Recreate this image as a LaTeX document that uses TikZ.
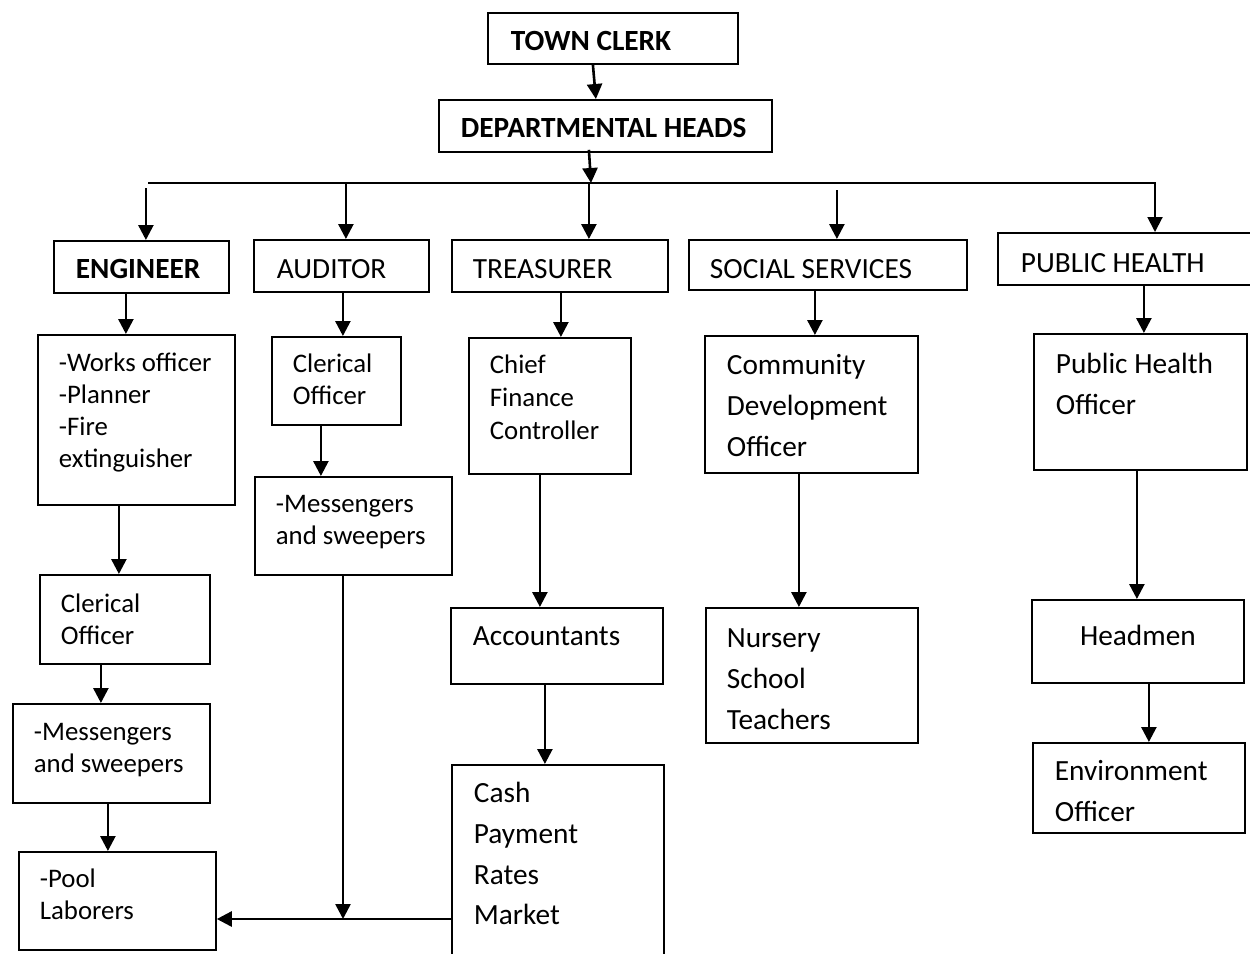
\documentclass[tikz,border=0pt]{standalone}
\usepackage{fontspec}
\setmainfont{Carlito}
\usetikzlibrary{arrows.meta}
\newcommand*{\smalltxt}{\fontsize{26.8}{31.8}\selectfont}
\newcommand*{\bigtxt}{\fontsize{29.3}{40.6}\selectfont}
\tikzset{
    % Define style for the office boxes
    post/.style={
           rectangle,
           draw=black, line width=1.8pt,
           anchor=north west,
           inner ysep=0pt,
           align=left,
           font=\bigtxt},
    % Define style for the smaller text
    lite/.style={font=\smalltxt},
    % Define style for the heads
    topp/.style={font=\bigtxt\bfseries},
    % Define arrow style
    pil/.style={
           -{Triangle[length=15pt,width=15pt]},
           line width=2.6pt}
}
% #1 style, #2 name, #3-#6 corners, #7 text left, #8 first baseline, #9 text
\newcommand*{\post}[9]{%
  \pgfmathsetmacro\pbPad{#7-#3}%
  \pgfmathsetmacro\pbWid{#5-#3-2*\pbPad}%
  \pgfmathsetmacro\pbHgt{#8-#4}%
  \pgfmathsetmacro\pbDep{#6-#8}%
  \node[post,#1,inner xsep=\pbPad pt,text width=\pbWid pt,
        text height=\pbHgt pt,text depth=\pbDep pt] (#2) at (#3,#4)
        {\spaceskip=0pt\xspaceskip=0pt\relax #9};}

\begin{document}
\begin{tikzpicture}[x=1pt,y=-1pt]
\fill[white] (0,0) rectangle (1250,953);
\useasboundingbox (0,0) rectangle (1250,953);

% Top of the chart
\post{topp}{clerk}{487}{12}{737}{63}{510}{50}{TOWN~CLERK}
\post{topp}{heads}{438}{99}{771}{151}{460}{137}{DEPARTMENTAL~HEADS}

% The five departments
\post{topp}{engineer}{53}{240}{228}{292}{75}{278}{ENGINEER}
\post{}{auditor}{253}{239}{428}{291}{276}{278}{AUDITOR}
\post{}{treasurer}{451}{239}{667}{291}{472}{278}{TREASURER}
\post{}{social}{688}{239}{966}{289}{709}{278}{SOCIAL~SERVICES}
\post{}{health}{997}{232}{1252}{284}{1020}{272}{PUBLIC~HEALTH}

% Engineer
\post{lite}{works}{37}{334}{234}{504}{58}{371}{-Works~officer\\-Planner\\-Fire\\extinguisher}
\post{lite}{eclerk}{39}{574}{209}{663}{60}{612}{Clerical\\Officer}
\post{lite}{emess}{12}{703}{209}{802}{33}{740}{-Messengers\\and~sweepers}
\post{lite}{pool}{18}{851}{215}{949}{39}{887}{-Pool\\Laborers}

% Auditor
\post{lite}{aclerk}{271}{336}{400}{424}{292}{372}{Clerical\\Officer}
\post{lite}{amess}{254}{476}{451}{574}{275}{512}{-Messengers\\and~sweepers}

% Treasurer
\post{lite,font=\fontsize{26.8}{32.8}\selectfont}{cfc}{468}{337}{630}{473}{489}{373}{Chief\\Finance\\Controller}
\post{}{acc}{450}{607}{662}{683}{472}{645}{Accountants}
\post{}{cash}{451}{764}{663}{1000}{473}{802}{Cash\\Payment\\Rates\\Market}

% Social services
\post{}{cdo}{704}{335}{917}{472}{726}{374}{Community\\Development\\Officer}
\post{}{nursery}{705}{607}{917}{742}{726}{647}{Nursery\\School\\Teachers}

% Public health
\post{}{pho}{1033}{333}{1246}{469}{1055}{373}{Public~Health\\Officer}
\post{align=center}{headmen}{1031}{599}{1243}{682}{1041}{645}{Headmen}
\post{}{env}{1032}{742}{1244}{832}{1054}{780}{Environment\\Officer}

% The line that feeds the departments
\coordinate (hub) at (591,183);
\coordinate (busL) at (148,183);
\coordinate (busR) at (1155,183);
\draw[pil] ([xshift=-20pt]clerk.south) -- ([xshift=-9.5pt]heads.north);
\draw[pil] ([xshift=-16.5pt,yshift=3pt]heads.south) -- (hub);
\draw[pil,line width=2pt] (busL) -- (busR) -- (busR |- health.north);
\draw[pil] ([xshift=4.5pt,yshift=-5pt]engineer.north |- busL) -- ([xshift=4.5pt]engineer.north);
\draw[pil] ([xshift=4.5pt]auditor.north |- busL) -- ([xshift=4.5pt]auditor.north);
\draw[pil] ([xshift=29pt]treasurer.north |- busL) -- ([xshift=29pt]treasurer.north);
\draw[pil] ([xshift=9pt,yshift=-7pt]social.north |- busL) -- ([xshift=9pt]social.north);

% Down each column
\draw[pil] ([xshift=-15.5pt]engineer.south) -- ([xshift=-15.5pt]engineer.south |- works.north);
\draw[pil] ([xshift=-17.5pt]works.south) -- ([xshift=-17.5pt]works.south |- eclerk.north);
\draw[pil] ([xshift=-24pt]eclerk.south) -- ([xshift=-24pt]eclerk.south |- emess.north);
\draw[pil] ([xshift=-3.5pt]emess.south) -- ([xshift=-3.5pt]emess.south |- pool.north);
\draw[pil] ([xshift=1.5pt]auditor.south) -- ([xshift=1.5pt]auditor.south |- aclerk.north);
\draw[pil] ([xshift=-15.5pt]aclerk.south) -- ([xshift=-15.5pt]aclerk.south |- amess.north);
\draw[pil] ([xshift=1pt]treasurer.south) -- ([xshift=1pt]treasurer.south |- cfc.north);
\draw[pil] ([xshift=-10pt]cfc.south) -- ([xshift=-10pt]cfc.south |- acc.north);
\draw[pil] ([xshift=-12pt]acc.south) -- ([xshift=-12pt]acc.south |- cash.north);
\draw[pil] ([xshift=-13pt]social.south) -- ([xshift=-13pt]social.south |- cdo.north);
\draw[pil] ([xshift=-12.5pt]cdo.south) -- ([xshift=-12.5pt]cdo.south |- nursery.north);
\draw[pil] ([xshift=18.5pt]health.south) -- ([xshift=18.5pt]health.south |- pho.north);
\draw[pil] ([xshift=-3.5pt]pho.south) -- ([xshift=-3.5pt]pho.south |- headmen.north);
\draw[pil] ([xshift=11pt]headmen.south) -- ([xshift=11pt]headmen.south |- env.north);

% Into the pool of laborers
\coordinate (merge) at (343,919);
\draw[pil] (amess.south -| merge) -- (merge);
\draw[pil] (cash.west |- merge) -- (pool.east |- merge);
\end{tikzpicture}
\end{document}
